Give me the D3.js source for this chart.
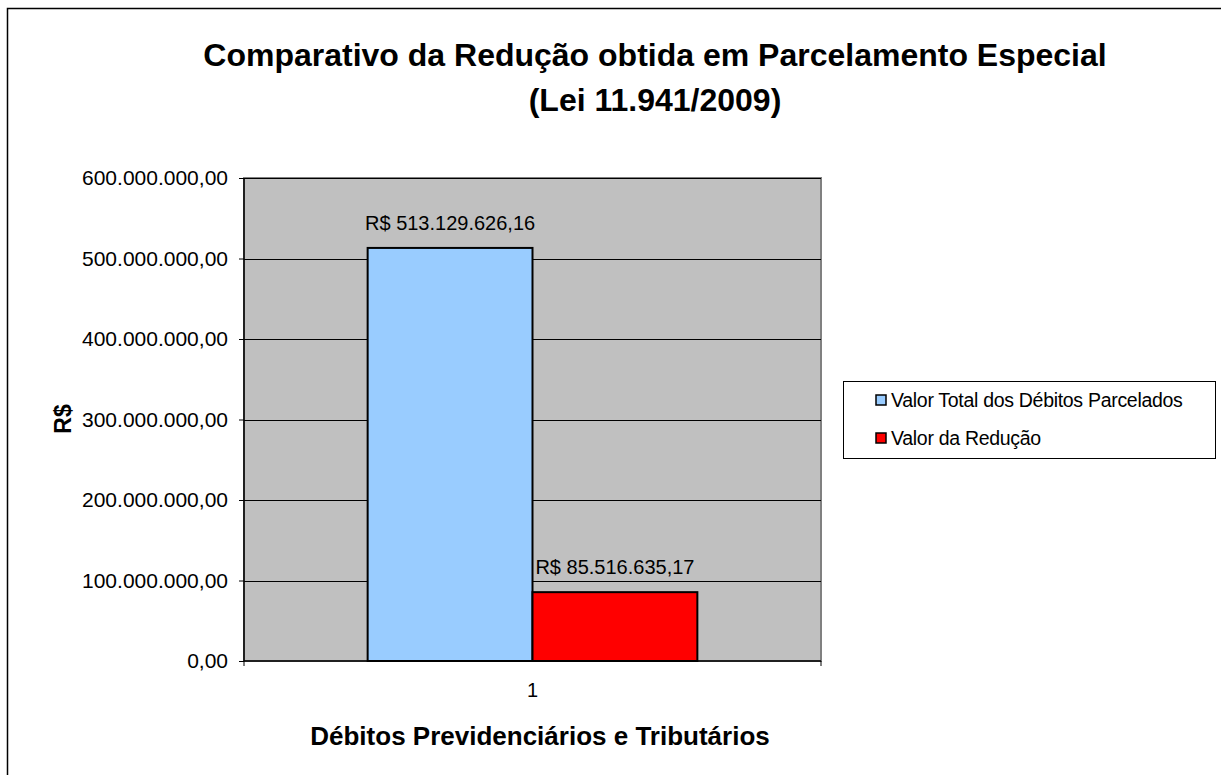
<!DOCTYPE html>
<html>
<head>
<meta charset="utf-8">
<script src="https://cdn.jsdelivr.net/npm/d3@7"></script>
<style>
  body { margin: 0; background: #fff; }
  svg { display: block; font-family: Arial, "Liberation Sans", sans-serif; }
</style>
</head>
<body>
<svg id="chart"></svg>
<script>
(function() {

  const categories = ['1'];
  const seriesNames = ['Valor Total dos Débitos Parcelados', 'Valor da Redução'];
  const seriesValues = [513129626.16, 85516635.17];
  const seriesLabels = ['R$ 513.129.626,16', 'R$ 85.516.635,17'];
  const seriesColors = ['#99ccff', '#ff0000'];
  const yTicks = [0, 100000000, 200000000, 300000000, 400000000, 500000000, 600000000];

  const width = 1221;
  const height = 775;
  const plot = { left: 244, top: 178, right: 821, bottom: 661 };

  const svg = d3.select('#chart')
    .attr('width', width)
    .attr('height', height);

  // outer chart border (runs off the right and bottom)
  svg.append('rect')
    .attr('x', 7.5).attr('y', 8.5)
    .attr('width', width + 20).attr('height', height + 20)
    .attr('fill', '#fff')
    .attr('stroke', '#000')
    .attr('stroke-width', 1.5);

  // title
  const title = svg.append('g').attr('class', 'title')
    .attr('font-weight', 'bold')
    .attr('font-size', 32)
    .attr('text-anchor', 'middle');
  title.append('text').attr('x', 655).attr('y', 66)
    .text('Comparativo da Redução obtida em Parcelamento Especial');
  title.append('text').attr('x', 655).attr('y', 111)
    .text('(Lei 11.941/2009)');

  const x0 = d3.scaleBand()
    .domain(categories)
    .range([plot.left, plot.right])
    .paddingInner(0)
    .paddingOuter(0);

  const groupWidth = x0.bandwidth() / (1 + 1.5 / seriesNames.length);
  const x1 = d3.scaleBand()
    .domain(seriesNames)
    .range([0, groupWidth]);

  const y = d3.scaleLinear()
    .domain([0, 600000000])
    .range([plot.bottom, plot.top]);

  const fmt = d3.formatLocale({ decimal: ',', thousands: '.', grouping: [3], currency: ['R$ ', ''] }).format(',.2f');

  // plot area
  svg.append('rect')
    .attr('x', plot.left).attr('y', plot.top)
    .attr('width', plot.right - plot.left).attr('height', plot.bottom - plot.top)
    .attr('fill', '#c0c0c0')
    .attr('stroke', '#808080')
    .attr('stroke-width', 2);

  // gridlines
  svg.append('g').attr('class', 'grid')
    .selectAll('line')
    .data(yTicks.slice(1))
    .enter().append('line')
    .attr('x1', plot.left).attr('x2', plot.right)
    .attr('y1', d => Math.round(y(d)) + 0.5).attr('y2', d => Math.round(y(d)) + 0.5)
    .attr('stroke', '#000')
    .attr('stroke-width', 1);

  // bars
  const groups = svg.append('g').attr('class', 'bars')
    .selectAll('g')
    .data(categories)
    .enter().append('g')
    .attr('transform', d => 'translate(' + (x0(d) + (x0.bandwidth() - groupWidth) / 2) + ',0)');

  groups.selectAll('rect')
    .data((d, i) => seriesNames.map((s, j) => ({ name: s, value: seriesValues[j], color: seriesColors[j] })))
    .enter().append('rect')
    .attr('x', d => x1(d.name))
    .attr('y', d => y(d.value))
    .attr('width', x1.bandwidth())
    .attr('height', d => plot.bottom - y(d.value))
    .attr('fill', d => d.color)
    .attr('stroke', '#000')
    .attr('stroke-width', 2);

  groups.selectAll('text')
    .data((d, i) => seriesNames.map((s, j) => ({ name: s, value: seriesValues[j], label: seriesLabels[j] })))
    .enter().append('text')
    .attr('x', d => x1(d.name) + x1.bandwidth() / 2)
    .attr('y', d => y(d.value) - 18)
    .attr('text-anchor', 'middle')
    .attr('font-size', 20)
    .attr('fill', '#000')
    .text(d => d.label);

  // y axis
  const yAxis = svg.append('g').attr('class', 'y-axis')
    .attr('transform', 'translate(' + plot.left + ',0)')
    .call(d3.axisLeft(y).tickValues(yTicks).tickSize(5).tickPadding(11).tickFormat(fmt));
  yAxis.selectAll('text').attr('font-size', 21).attr('fill', '#000').attr('font-family', 'Arial, "Liberation Sans", sans-serif');
  yAxis.selectAll('line').attr('stroke', '#000');
  yAxis.select('.domain').attr('d', 'M0,' + plot.top + 'V' + plot.bottom).attr('stroke', '#000').attr('stroke-width', 1.5);

  // x axis
  const xAxis = svg.append('g').attr('class', 'x-axis')
    .attr('transform', 'translate(0,' + plot.bottom + ')')
    .call(d3.axisBottom(x0).tickSize(0).tickPadding(22));
  xAxis.selectAll('text').attr('font-size', 20).attr('fill', '#000').attr('font-family', 'Arial, "Liberation Sans", sans-serif');
  xAxis.select('.domain').attr('d', 'M' + plot.left + ',0H' + plot.right).attr('stroke', '#000').attr('stroke-width', 1.5);
  xAxis.selectAll('.edge')
    .data(x0.range())
    .enter().append('line')
    .attr('class', 'edge')
    .attr('x1', d => d).attr('x2', d => d)
    .attr('y1', 0).attr('y2', 5)
    .attr('stroke', '#000');

  // axis titles
  svg.append('text')
    .attr('x', 540).attr('y', 745)
    .attr('text-anchor', 'middle')
    .attr('font-weight', 'bold')
    .attr('font-size', 26)
    .text('Débitos Previdenciários e Tributários');

  svg.append('text')
    .attr('transform', 'translate(71,419) rotate(-90)')
    .attr('text-anchor', 'middle')
    .attr('font-weight', 'bold')
    .attr('font-size', 23)
    .text('R$');

  // legend
  const legend = svg.append('g').attr('class', 'legend')
    .attr('transform', 'translate(843,381)');
  legend.append('rect')
    .attr('x', 0.5).attr('y', 0.5)
    .attr('width', 372).attr('height', 77)
    .attr('fill', '#fff')
    .attr('stroke', '#000');
  const items = legend.selectAll('.item')
    .data(seriesNames)
    .enter().append('g')
    .attr('class', 'item')
    .attr('transform', (d, i) => 'translate(0,' + (19 + i * 38) + ')');
  items.append('rect')
    .attr('x', 33).attr('y', -5)
    .attr('width', 10).attr('height', 10)
    .attr('fill', (d, i) => seriesColors[i])
    .attr('stroke', '#000')
    .attr('stroke-width', 1.5);
  items.append('text')
    .attr('x', 48).attr('y', 7)
    .attr('font-size', 19.5)
    .attr('letter-spacing', -0.3)
    .text(d => d);
})();
</script>
</body>
</html>
